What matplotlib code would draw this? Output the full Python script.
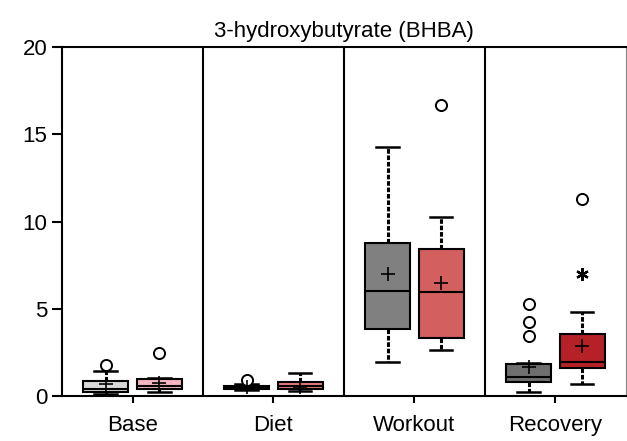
import matplotlib
matplotlib.use("Agg")
from matplotlib import pyplot as plt
import numpy as np

# ---- data (mmol/L-ish units)
phases = ['Base', 'Diet', 'Workout', 'Recovery']

# group A (gray boxes)
a_whislo = [0.11, 0.32, 1.93, 0.25]
a_q1 = [0.25, 0.40, 3.86, 0.78]
a_med = [0.38, 0.48, 6.02, 1.11]
a_q3 = [0.86, 0.58, 8.75, 1.82]
a_whishi = [1.43, 0.68, 14.29, 1.91]
a_mean = [0.67, 0.50, 7.00, 1.64]
a_fliers = [[1.78], [0.90], [], [3.46, 4.26, 5.25]]

# group B (red boxes)
b_whislo = [0.21, 0.27, 2.64, 0.70]
b_q1 = [0.38, 0.40, 3.30, 1.62]
b_med = [0.57, 0.60, 5.98, 1.97]
b_q3 = [0.96, 0.80, 8.44, 3.53]
b_whishi = [1.01, 1.30, 10.27, 4.83]
b_mean = [0.73, 0.52, 6.46, 2.87]
b_fliers = [[2.45], [], [16.7], [11.27]]
b_extreme = [None, None, None, 6.97]   # the '*' point

a_colors = ['#d8d8d8', '#5a5a5a', '#808080', '#6e6e6e']
b_colors = ['#f4b6c2', '#e77b7b', '#d45f5f', '#b52126']

plt.rcParams['font.family'] = ['Liberation Sans', 'DejaVu Sans']

fig = plt.figure(figsize=(6.27, 4.41), dpi=100)
ax = fig.add_axes([0.099, 0.102, 0.899, 0.791])

x = np.arange(len(phases))
off = 0.19
w = 0.32

def stats(lo, q1, med, q3, hi, mean, fl):
    out = []
    for i in range(len(lo)):
        out.append(dict(whislo=lo[i], q1=q1[i], med=med[i], q3=q3[i],
                        whishi=hi[i], mean=mean[i], fliers=fl[i]))
    return out

sa = stats(a_whislo, a_q1, a_med, a_q3, a_whishi, a_mean, a_fliers)
sb = stats(b_whislo, b_q1, b_med, b_q3, b_whishi, b_mean, b_fliers)

common = dict(widths=w, patch_artist=True, showmeans=True,
              boxprops=dict(edgecolor='black', linewidth=1.5),
              medianprops=dict(color='black', linewidth=1.5),
              whiskerprops=dict(color='black', linewidth=2.2, linestyle=(0, (1.5, 0.6))),
              capprops=dict(color='black', linewidth=1.8),
              capwidths=w*0.5,
              meanprops=dict(marker='+', markeredgecolor='black', markersize=10, markeredgewidth=1.2),
              flierprops=dict(marker='o', markerfacecolor='white', markeredgecolor='black',
                              markersize=8, markeredgewidth=1.4))

ba = ax.bxp(sa, positions=x - off, **common)
bb = ax.bxp(sb, positions=x + off, **common)
for p, c in zip(ba['boxes'], a_colors):
    p.set_facecolor(c)
for p, c in zip(bb['boxes'], b_colors):
    p.set_facecolor(c)

for i, v in enumerate(b_extreme):
    if v is not None:
        ax.plot(x[i] + off, v, marker=(6, 2, 0), color='black', markersize=9, mew=1.6)

# separators between phases
for s in x[:-1] + 0.5:
    ax.axvline(s, color='black', linewidth=1.5)

ax.set_xlim(-0.5, len(phases) - 0.5)
ax.set_ylim(0, 20)
ax.set_yticks([0, 5, 10, 15, 20])
ax.set_xticks(x)
ax.set_xticklabels(phases)
ax.tick_params(axis='both', labelsize=16, width=1.5, length=7, color='black')
ax.tick_params(axis='x', length=5, pad=9)
for sp in ax.spines.values():
    sp.set_linewidth(1.5)
ax.spines['right'].set_linewidth(0.8)
ax.spines['right'].set_color('#888888')
ax.set_title('3-hydroxybutyrate (BHBA)', fontsize=16, pad=7)

fig.savefig('out.png', dpi=100)
